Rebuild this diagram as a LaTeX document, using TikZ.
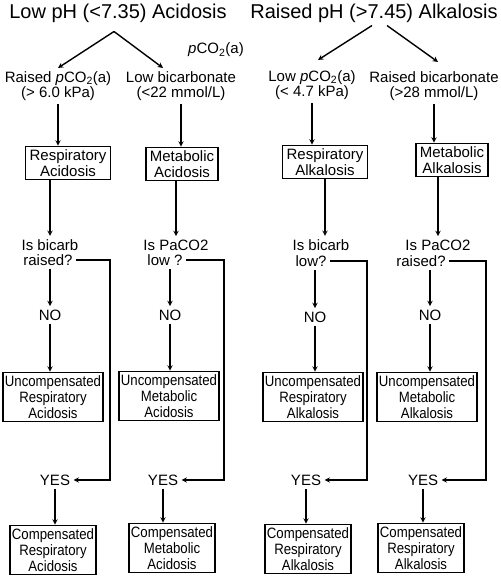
\documentclass[tikz,border=0pt]{standalone}
\usepackage{fontspec}
\setmainfont{Liberation Sans}
\newfontfamily\narrowfont[FakeStretch=0.88]{Liberation Sans}
\usepackage{tikz}
\usetikzlibrary{arrows}
\tikzstyle{heading} = [font=\fontsize{20}{22}\selectfont, inner sep=1pt]
\tikzstyle{cond} = [align=center, font=\fontsize{15}{15}\selectfont]
\tikzstyle{word} = [font=\fontsize{15}{15}\selectfont]
\tikzstyle{disorder} = [rectangle, draw=black, line width=1.6pt, align=center, inner xsep=4pt, inner ysep=3pt, font=\fontsize{15}{16}\selectfont]
\tikzstyle{outcome} = [disorder, inner xsep=2pt, font=\narrowfont\fontsize{15}{16}\selectfont]
\tikzstyle{arrow} = [line width=1.4pt,->,>=stealth]
\newcommand{\pco}{\textit{p}CO\textsubscript{2}(a)}

\begin{document}
\begin{tikzpicture}[x=1pt,y=-1pt]
   \useasboundingbox (0,0) rectangle (500,577);
   \node (h1) [heading] at (118,13) {Low pH (<7.35) Acidosis};
   \node (h2) [heading] at (374,13) {Raised pH (>7.45) Alkalosis};
   \node (pc) [word] at (216,50) {\pco};
   \node (t1) [cond] at (58,86) {Raised \pco\\(> 6.0 kPa)};
   \node (t2) [cond] at (181,86) {Low bicarbonate\\(<22 mmol/L)};
   \node (t3) [cond] at (312,85) {Low \pco\\(< 4.7 kPa)};
   \node (t4) [cond] at (434,86) {Raised bicarbonate\\(>28 mmol/L)};
   \node (r1) [disorder] at (68,163) {Respiratory\\Acidosis};
   \node (m1) [disorder] at (182,164) {Metabolic\\Acidosis};
   \node (b3) [disorder] at (325,162) {Respiratory\\Alkalosis};
   \node (b4) [disorder] at (452,160) {Metabolic\\Alkalosis};
   \node (qa1) [word] at (50,245) {Is bicarb};
   \node (qb1) [word] at (48,260) {raised?};
   \node (qa2) [word] at (176,245) {Is PaCO2};
   \node (qb2) [word] at (165,260) {low ?};
   \node (qa3) [word] at (321,245) {Is bicarb};
   \node (qb3) [word] at (311,261) {low?};
   \node (qa4) [word] at (438,245) {Is PaCO2};
   \node (qb4) [word] at (421,261) {raised?};
   \node (n1) [word] at (50,315) {NO};
   \node (n2) [word] at (170,315) {NO};
   \node (n3) [word] at (315,317) {NO};
   \node (n4) [word] at (430,315) {NO};
   \node (u1) [outcome] at (53,397) {Uncompensated\\Respiratory\\Acidosis};
   \node (u2) [outcome] at (169,396) {Uncompensated\\Metabolic\\Acidosis};
   \node (u3) [outcome] at (313,397) {Uncompensated\\Respiratory\\Alkalosis};
   \node (u4) [outcome] at (427,397) {Uncompensated\\Metabolic\\Alkalosis};
   \node (y1) [word] at (55,480) {YES};
   \node (y2) [word] at (163,480) {YES};
   \node (y3) [word] at (306,480) {YES};
   \node (y4) [word] at (423,480) {YES};
   \node (c1) [outcome] at (53,550) {Compensated\\Respiratory\\Acidosis};
   \node (c2) [outcome] at (172,548) {Compensated\\Metabolic\\Acidosis};
   \node (c3) [outcome] at (308,549) {Compensated\\Respiratory\\Alkalosis};
   \node (c4) [outcome] at (421,548) {Compensated\\Respiratory\\Alkalosis};
   \coordinate (k1) at (110,260);
   \coordinate (k2) at (224,260);
   \coordinate (k3) at (367,261);
   \coordinate (k4) at (486,261);
   \draw [arrow] ([shift={(-4pt,-8pt)}]h1.south) -- (t1.north);
   \draw [arrow] ([shift={(-4pt,-8pt)}]h1.south) -- ([xshift=-18pt]t2.north);
   \draw [arrow] ([shift={(-2pt,-2pt)}]h2.south) -- ([shift={(6pt,7pt)}]t3.north);
   \draw [arrow] ([shift={(13pt,-2pt)}]h2.south) -- ([shift={(4pt,6pt)}]t4.north);
   \draw [arrow] (t1.south) -- (t1.south |- r1.north);
   \draw [arrow] (t2.south) -- (t2.south |- m1.north);
   \draw [arrow] (t3.south) -- (t3.south |- b3.north);
   \draw [arrow] (t4.south) -- (t4.south |- b4.north);
   \draw [arrow] (r1.south -| qa1) -- (qa1);
   \draw [arrow] (m1.south -| qa2) -- (qa2);
   \draw [arrow] (b3) -- (b3 |- qa3.north);
   \draw [arrow] (b4.south -| qa4) -- (qa4);
   \draw [arrow] (qb1.south -| n1) -- (n1);
   \draw [arrow] (qb2.south -| n2) -- (n2);
   \draw [arrow] (qb3.south -| n3) -- (n3);
   \draw [arrow] (qb4.south -| n4) -- (n4);
   \draw [arrow] (n1) -- (n1 |- u1.north);
   \draw [arrow] (n2) -- (n2 |- u2.north);
   \draw [arrow] (n3) -- (n3 |- u3.north);
   \draw [arrow] (n4) -- (n4 |- u4.north);
   \draw [arrow] (qb1) -- (k1) |- (y1);
   \draw [arrow] (qb2) -- (k2) |- (y2);
   \draw [arrow] (qb3) -- (k3) |- (y3);
   \draw [arrow] (qb4) -- (k4) |- (y4);
   \draw [arrow] (y1) -- (y1 |- c1.north);
   \draw [arrow] (y2) -- (y2 |- c2.north);
   \draw [arrow] (y3) -- (y3 |- c3.north);
   \draw [arrow] (y4) -- (y4 |- c4.north);
\end{tikzpicture}
\end{document}
